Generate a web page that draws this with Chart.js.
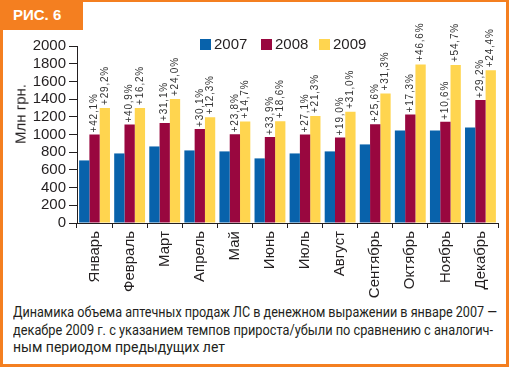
<!DOCTYPE html>
<html lang="ru">
<head>
<meta charset="UTF-8">
<title>Рис. 6</title>
<script src="https://cdn.jsdelivr.net/npm/chart.js@4.4.1/dist/chart.umd.min.js"></script>
<style>
  body { margin: 0; background: #fff; }
  #page { position: relative; width: 509px; height: 368px; overflow: hidden; font-family: "Liberation Sans", Arial, sans-serif; color: #231f20; }
  #frame { position: absolute; left: 0; top: 0; width: 503px; height: 362px; border: 3px solid #f47f20; border-top-width: 2px; }
  #tab { position: absolute; left: 0; top: 0; width: 83px; height: 30px; background: #f47f20; color: #fff; font: bold 15px "Liberation Sans", Arial, sans-serif; line-height: 30px; padding-left: 13px; box-sizing: border-box; }
  #chart { position: absolute; left: 0; top: 0; }
  #ytitle { position: absolute; left: 20px; top: 114px; transform: translate(-50%, -50%) rotate(-90deg); font-size: 15px; white-space: nowrap; }
  #legend { position: absolute; top: 35px; left: 200px; font-size: 15px; }
  #legend span { position: absolute; white-space: nowrap; }
  #legend i { position: absolute; width: 11px; height: 11px; top: 4px; }
  #caption { position: absolute; left: 13px; top: 304px; font: 14px Roboto, sans-serif; line-height: 17.5px; color: #231f20; }
  #caption div { white-space: nowrap; transform-origin: 0 0; }
</style>
</head>
<body>
<div id="page">
  <div id="frame"></div>
  <div id="tab">РИС. 6</div>
  <canvas id="chart" width="509" height="300"></canvas>
  <div id="ytitle">Млн грн.</div>
  <div id="legend"></div>
  <div id="caption">
    <div><span>Динамика объема аптечных продаж ЛС в денежном выражении в январе 2007 —</span></div>
    <div><span>декабре 2009 г. с указанием темпов прироста/убыли по сравнению с аналогич-</span></div>
    <div><span>ным периодом предыдущих лет</span></div>
  </div>
</div>
<script>
const months = ['Январь', 'Февраль', 'Март', 'Апрель', 'Май', 'Июнь', 'Июль', 'Август', 'Сентябрь', 'Октябрь', 'Ноябрь', 'Декабрь'];
const years = ['2007', '2008', '2009'];
const sales2007 = [707, 786, 865, 820, 809, 730, 786, 809, 888, 1046, 1046, 1080];
const sales2008 = [1001, 1112, 1130, 1062, 1002, 972, 1000, 965, 1115, 1227, 1143, 1390];
const sales2009 = [1300, 1300, 1400, 1195, 1146, 1150, 1208, 1256, 1464, 1790, 1785, 1725];
const growth2008 = ['+42,1%', '+40,9%', '+31,1%', '+30,1%', '+23,8%', '+33,9%', '+27,1%', '+19,0%', '+25,6%', '+17,3%', '+10,6%', '+29,2%'];
const growth2009 = ['+29,2%', '+16,2%', '+24,0%', '+12,3%', '+14,7%', '+18,6%', '+21,3%', '+31,0%', '+31,3%', '+46,6%', '+54,7%', '+24,4%'];
const yTicks = [0, 200, 400, 600, 800, 1000, 1200, 1400, 1600, 1800, 2000];

const colors = ['#0862ab', '#99073f', '#ffd54f'];

// подписи прироста над столбиками 2008 и 2009
const growthLabels = {
  id: 'growthLabels',
  afterDatasetsDraw(chart) {
    const ctx = chart.ctx;
    const sets = [[1, growth2008, 2], [2, growth2009, 3]];
    ctx.save();
    ctx.fillStyle = '#333';
    ctx.font = '10px "Liberation Sans", Arial, sans-serif';
    ctx.letterSpacing = '0.8px';
    ctx.textAlign = 'left';
    ctx.textBaseline = 'middle';
    sets.forEach(([di, labels, gap]) => {
      chart.getDatasetMeta(di).data.forEach((bar, i) => {
        ctx.save();
        ctx.translate(bar.x, bar.y - gap);
        ctx.rotate(-Math.PI / 2);
        ctx.fillText(labels[i], 0, 0);
        ctx.restore();
      });
    });
    ctx.restore();
  }
};

const chart = new Chart(document.getElementById('chart'), {
  type: 'bar',
  data: {
    labels: months,
    datasets: [
      { label: years[0], data: sales2007, backgroundColor: colors[0] },
      { label: years[1], data: sales2008, backgroundColor: colors[1] },
      { label: years[2], data: sales2009, backgroundColor: colors[2] }
    ]
  },
  options: {
    responsive: false,
    animation: false,
    devicePixelRatio: 1,
    layout: { padding: { top: 46, left: 0, right: 11, bottom: 0 } },
    datasets: { bar: { categoryPercentage: 0.88, barPercentage: 1.0 } },
    plugins: { legend: { display: false }, tooltip: { enabled: false } },
    scales: {
      x: {
        afterFit: s => { s.height = 77; },
        grid: { drawOnChartArea: false, drawTicks: true, tickLength: 5, color: '#231f20', offset: true },
        border: { display: true, color: '#231f20', width: 1 },
        ticks: { minRotation: 90, maxRotation: 90, padding: 3, color: '#231f20', font: { size: 15, family: '"Liberation Sans", Arial, sans-serif' } }
      },
      y: {
        min: 0, max: 2000,
        afterFit: s => { s.width = 77; },
        afterBuildTicks: s => { s.ticks = yTicks.map(v => ({ value: v })); },
        grid: { drawOnChartArea: false, drawTicks: true, tickLength: 8, color: '#231f20' },
        border: { display: true, color: '#231f20', width: 1 },
        ticks: {
          autoSkip: false, padding: 3, color: '#231f20',
          font: { size: 15, family: '"Liberation Sans", Arial, sans-serif' },
          callback: v => String(v)
        }
      }
    }
  },
  plugins: [growthLabels]
});

// легенда
const legendX = [0, 61, 119];
const legend = document.getElementById('legend');
chart.data.datasets.forEach((ds, i) => {
  const box = document.createElement('i');
  box.style.left = legendX[i] + 'px';
  box.style.background = ds.backgroundColor;
  const txt = document.createElement('span');
  txt.style.left = (legendX[i] + 14) + 'px';
  txt.textContent = ds.label;
  legend.appendChild(box);
  legend.appendChild(txt);
});

// подпись: ужать строки до ширины как в оригинале
const captionWidths = [484, 480, 0];
document.querySelectorAll('#caption div').forEach((line, i) => {
  const w = line.firstElementChild.getBoundingClientRect().width;
  const k = captionWidths[i] ? captionWidths[i] / w : 484 / document.querySelector('#caption span').getBoundingClientRect().width;
  line.style.transform = 'scaleX(' + k + ')';
});
</script>
</body>
</html>
